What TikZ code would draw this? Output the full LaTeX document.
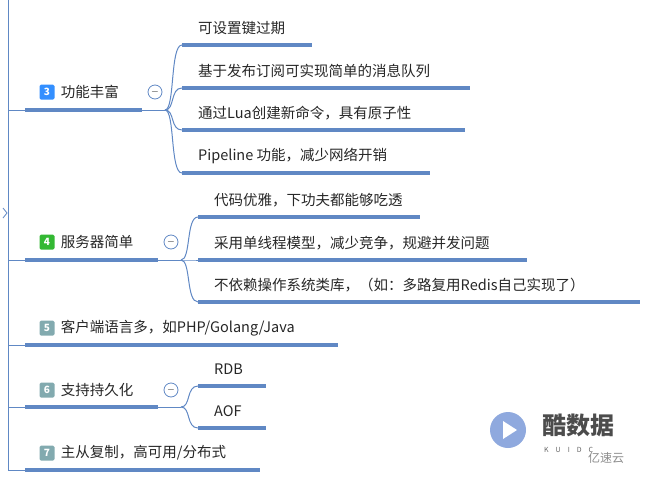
\documentclass[tikz,border=0pt]{standalone}
\usepackage{fontspec}
\setmainfont{Noto Sans CJK SC}
\usetikzlibrary{positioning}
\definecolor{mapblue}{RGB}{96,136,196}
\definecolor{grayteal}{RGB}{130,170,175}
\tikzset{
  topic/.style={anchor=west,inner sep=0pt,font=\fontsize{14.5}{16}\selectfont,text=black!85},
  badge/.style={fill=#1,text=white,rounded corners=1.5pt,minimum width=15pt,minimum height=15pt,inner sep=0pt,font=\fontsize{10}{11}\selectfont\bfseries},
  uline/.style={mapblue,line width=3.5pt},
  link/.style={mapblue,line width=1pt},
  fold/.style={circle,draw=mapblue,line width=0.8pt,minimum size=14pt,inner sep=0pt}
}
\begin{document}
\begin{tikzpicture}[x=1pt,y=-1pt]
\useasboundingbox (0,0) rectangle (656,479);
% main trunk
\coordinate (top) at (8,0);
\coordinate (bot) at (8,470);
\draw[link] (top) -- (bot) -- (25,470);
\draw[mapblue,line width=0.8pt] (3,208) -- (7,213) -- (3,218);
% branch 3
\node[badge=blue!55!cyan!80!white] (b3) at (47,92) {3};
\node[topic,right=6pt of b3] (t3) {功能丰富};
\node[fold] (f3) at (155,92) {$-$};
\draw[link] (8,110) -- (165,110);
\draw[uline] (25,110) -- (142,110);
\foreach \y/\e/\txt in {45/312/可设置键过期, 88/470/基于发布订阅可实现简单的消息队列,
  130/465/通过Lua创建新命令，具有原子性, 173/430/Pipeline 功能，减少网络开销}{
  \draw[link] (165,110) .. controls (175,110) and (170,\y) .. (182,\y);
  \draw[uline] (182,\y) -- (\e,\y);
  \node[topic] at (198,\y-17) {\txt};
}
% branch 4
\node[badge=green!65!black!80!white] (b4) at (47,242) {4};
\node[topic,right=6pt of b4] (t4) {服务器简单};
\node[fold] (f4) at (171,242) {$-$};
\draw[link] (8,260) -- (181,260);
\draw[uline] (25,260) -- (158,260);
\foreach \y/\e/\txt in {217/420/代码优雅，下功夫都能够吃透, 260/527/采用单线程模型，减少竞争，规避并发问题,
  302/640/不依赖操作系统类库，（如：多路复用Redis自己实现了）}{
  \draw[link] (181,260) .. controls (191,260) and (186,\y) .. (198,\y);
  \draw[uline] (198,\y) -- (\e,\y);
  \node[topic] at (214,\y-17) {\txt};
}
% branch 5
\node[badge=grayteal] (b5) at (47,328) {5};
\node[topic,right=6pt of b5] (t5) {客户端语言多，如PHP/Golang/Java};
\draw[link] (8,345) -- (25,345);
\draw[uline] (25,345) -- (338,345);
% branch 6
\node[badge=grayteal] (b6) at (47,390) {6};
\node[topic,right=6pt of b6] (t6) {支持持久化};
\node[fold] (f6) at (171,390) {$-$};
\draw[link] (8,407) -- (181,407);
\draw[uline] (25,407) -- (158,407);
\foreach \y/\txt in {386/RDB, 428/AOF}{
  \draw[link] (181,407) .. controls (191,407) and (186,\y) .. (198,\y);
  \draw[uline] (198,\y) -- (266,\y);
  \node[topic] at (214,\y-17) {\txt};
}
% branch 7
\node[badge=grayteal] (b7) at (47,453) {7};
\node[topic,right=6pt of b7] (t7) {主从复制，高可用/分布式};
\draw[uline] (25,470) -- (260,470);
% watermark
\fill[cyan!45!blue!45] (508,430) circle (18);
\fill[white] (503,421) -- (503,439) -- (517,430) -- cycle;
\node[anchor=west,inner sep=0pt,text=black!70,font=\fontsize{24}{26}\selectfont\bfseries] (wm) at (542,425) {酷数据};
\node[anchor=west,inner sep=0pt,text=black!60,font=\fontsize{7}{8}\selectfont] at (544,450) {K\quad U\quad I\quad D\quad C};
\node[anchor=west,inner sep=0pt,text=black!45,font=\fontsize{12}{13}\selectfont] at (588,458) {亿速云};
\end{tikzpicture}
\end{document}
